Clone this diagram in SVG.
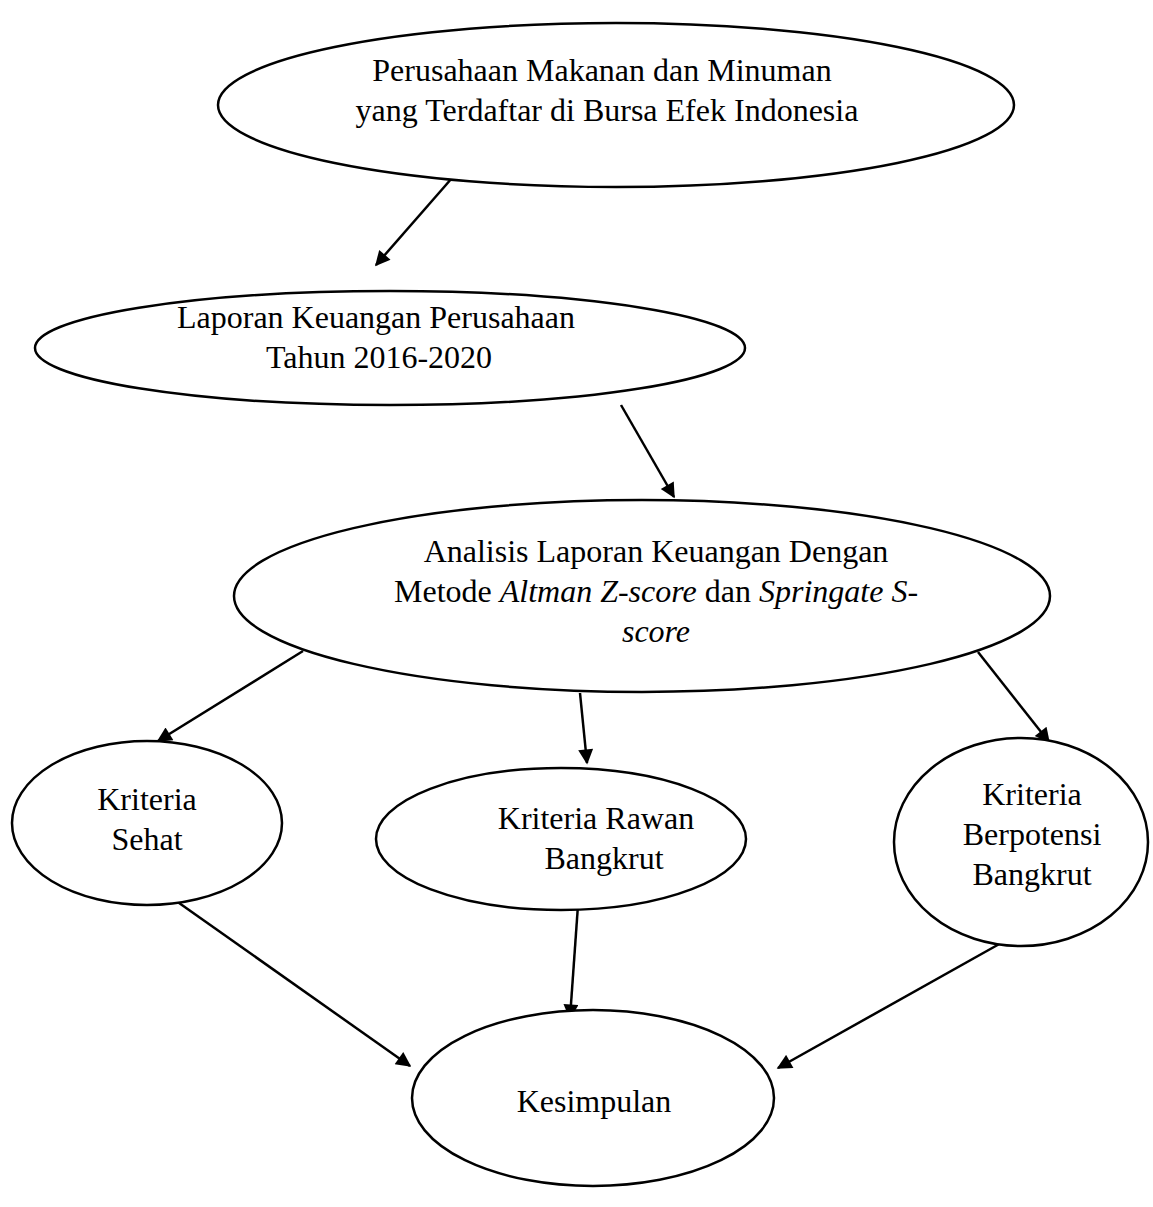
<svg xmlns="http://www.w3.org/2000/svg" width="1153" height="1207" viewBox="0 0 1153 1207">
<defs>
<style>
.n ellipse{fill:#fff;stroke:#000;stroke-width:2.5}
text{font-family:"Liberation Serif","Times New Roman",serif;font-size:32px;fill:#000;text-anchor:middle}
.c line{stroke:#000;stroke-width:2.5;marker-end:url(#ah)}
</style>
<marker id="ah" viewBox="0 0 10 10" refX="9" refY="5" markerWidth="7" markerHeight="6" markerUnits="strokeWidth" orient="auto">
<path d="M0,0 L10,5 L0,10 z" fill="#000"/>
</marker>
</defs>
<rect width="1153" height="1207" fill="#fff"/>
<g class="c" id="connectors">
<line x1="452" y1="178" x2="376" y2="265"/>
<line x1="621" y1="405" x2="674" y2="497"/>
<line x1="303" y1="651" x2="158" y2="741"/>
<line x1="580" y1="693" x2="587" y2="763"/>
<line x1="978" y1="652" x2="1049" y2="742"/>
<line x1="172" y1="898" x2="410" y2="1066"/>
<line x1="578" y1="905" x2="570" y2="1018"/>
<line x1="1010" y1="938" x2="778" y2="1068"/>
</g>
<g class="n" id="n1"><ellipse cx="616" cy="105" rx="398" ry="82"/><text x="602" y="81">Perusahaan Makanan dan Minuman</text><text x="607" y="121">yang Terdaftar di Bursa Efek Indonesia</text></g>
<g class="n" id="n2"><ellipse cx="390" cy="348" rx="355" ry="57"/><text x="376" y="328">Laporan Keuangan Perusahaan</text><text x="379" y="368">Tahun 2016-2020</text></g>
<g class="n" id="n3"><ellipse cx="642" cy="596" rx="408" ry="96"/><text x="656" y="562">Analisis Laporan Keuangan Dengan</text><text x="656" y="602">Metode <tspan font-style="italic">Altman Z-score</tspan> dan <tspan font-style="italic">Springate S-</tspan></text><text x="656" y="642" font-style="italic">score</text></g>
<g class="n" id="n4"><ellipse cx="147" cy="823" rx="135" ry="82"/><text x="147" y="810">Kriteria</text><text x="147" y="850">Sehat</text></g>
<g class="n" id="n5"><ellipse cx="561" cy="839" rx="185" ry="71"/><text x="596" y="829">Kriteria Rawan</text><text x="604" y="869">Bangkrut</text></g>
<g class="n" id="n6"><ellipse cx="1021" cy="842" rx="127" ry="104"/><text x="1032" y="805">Kriteria</text><text x="1032" y="845">Berpotensi</text><text x="1032" y="885">Bangkrut</text></g>
<g class="n" id="n7"><ellipse cx="593" cy="1098" rx="181" ry="88"/><text x="594" y="1112">Kesimpulan</text></g>
</svg>
